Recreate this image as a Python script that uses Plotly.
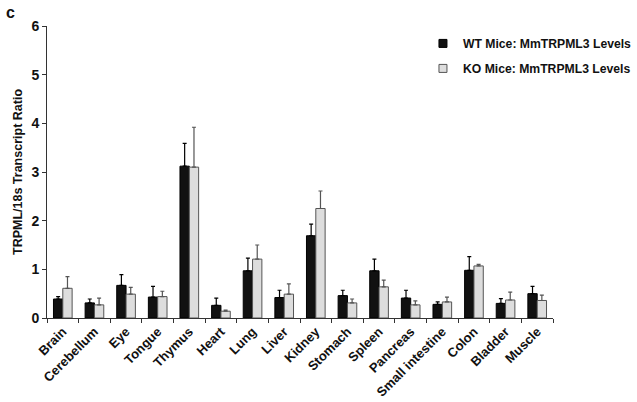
import plotly.graph_objects as go

categories = ["Brain", "Cerebellum", "Eye", "Tongue", "Thymus", "Heart", "Lung", "Liver",
              "Kidney", "Stomach", "Spleen", "Pancreas", "Small intestine", "Colon", "Bladder", "Muscle"]
wt_values = [0.39, 0.31, 0.67, 0.43, 3.12, 0.26, 0.97, 0.42, 1.69, 0.46, 0.97, 0.41, 0.28, 0.98, 0.30, 0.50]
wt_errors = [0.05, 0.08, 0.22, 0.22, 0.47, 0.15, 0.26, 0.15, 0.24, 0.11, 0.24, 0.16, 0.05, 0.28, 0.10, 0.15]
ko_values = [0.61, 0.27, 0.49, 0.44, 3.10, 0.14, 1.21, 0.49, 2.25, 0.31, 0.64, 0.27, 0.33, 1.07, 0.37, 0.36]
ko_errors = [0.24, 0.14, 0.14, 0.11, 0.82, 0.02, 0.29, 0.21, 0.36, 0.08, 0.14, 0.08, 0.10, 0.03, 0.16, 0.11]
y_ticks = [0, 1, 2, 3, 4, 5, 6]
series_names = ["WT Mice: MmTRPML3 Levels", "KO Mice: MmTRPML3 Levels"]

font_family = "Liberation Sans, Arial, sans-serif"
wt_fill, wt_line = "#111111", "#000000"
ko_fill, ko_line = "#dddddd", "#555555"

fig = go.Figure()
fig.add_trace(go.Bar(
    x=categories, y=wt_values, name=series_names[0], showlegend=False,
    marker=dict(color=wt_fill, line=dict(color=wt_line, width=1)),
    error_y=dict(type="data", array=wt_errors, arrayminus=[0] * len(wt_errors), symmetric=False,
                 color=wt_line, thickness=1.2, width=2),
))
fig.add_trace(go.Bar(
    x=categories, y=ko_values, name=series_names[1], showlegend=False,
    marker=dict(color=ko_fill, line=dict(color=ko_line, width=1)),
    error_y=dict(type="data", array=ko_errors, arrayminus=[0] * len(ko_errors), symmetric=False,
                 color=ko_line, thickness=1.2, width=2),
))
# legend-only entries with small square keys
for name, fill, line, grp in [(series_names[0], wt_fill, wt_line, "a"), (series_names[1], ko_fill, ko_line, "b")]:
    fig.add_trace(go.Scatter(
        x=[None], y=[None], mode="markers", name=name, legendgroup=grp,
        marker=dict(symbol="square", size=8, color=fill, line=dict(color=line, width=1)),
    ))

fig.update_layout(
    width=637, height=402,
    margin=dict(l=47, r=84, t=26, b=84, autoexpand=False),
    paper_bgcolor="white", plot_bgcolor="white",
    barmode="group", bargap=0.41, bargroupgap=0,
    font=dict(family=font_family, color="#111111"),
    showlegend=True,
    legend=dict(x=0.743, y=0.99, xanchor="left", yanchor="top",
                font=dict(size=12.2, weight="bold", family=font_family),
                bgcolor="rgba(0,0,0,0)", tracegroupgap=6, itemwidth=30),
    annotations=[dict(text="c", x=-0.085, y=1.082, xref="paper", yref="paper", showarrow=False,
                      font=dict(size=16, weight="bold", family=font_family),
                      xanchor="left", yanchor="top")],
)

fig.update_xaxes(
    range=[-0.5, 15.5], showline=True, linecolor="#333333", linewidth=1,
    ticks="outside", tickson="boundaries", ticklen=4, tickcolor="#333333",
    tickangle=-45, tickfont=dict(size=13, weight="bold", family=font_family),
    showgrid=False, zeroline=False, automargin=False,
)
fig.update_yaxes(
    range=[0, 6], tickvals=y_ticks, showline=True, linecolor="#333333", linewidth=1,
    ticks="outside", ticklen=4, tickcolor="#333333",
    tickfont=dict(size=14, weight="bold", family=font_family),
    title=dict(text="TRPML/18s Transcript Ratio", font=dict(size=12.5, weight="bold", family=font_family), standoff=6),
    showgrid=False, zeroline=False, automargin=False,
)

fig.write_html("out.html", config={"displayModeBar": False})

# remove the default page margin so the figure sits flush in the window
with open("out.html", "r", encoding="utf-8") as f:
    html = f.read()
html = html.replace("<head>", "<head><style>html,body{margin:0;padding:0;overflow:hidden;}</style>", 1)
with open("out.html", "w", encoding="utf-8") as f:
    f.write(html)
